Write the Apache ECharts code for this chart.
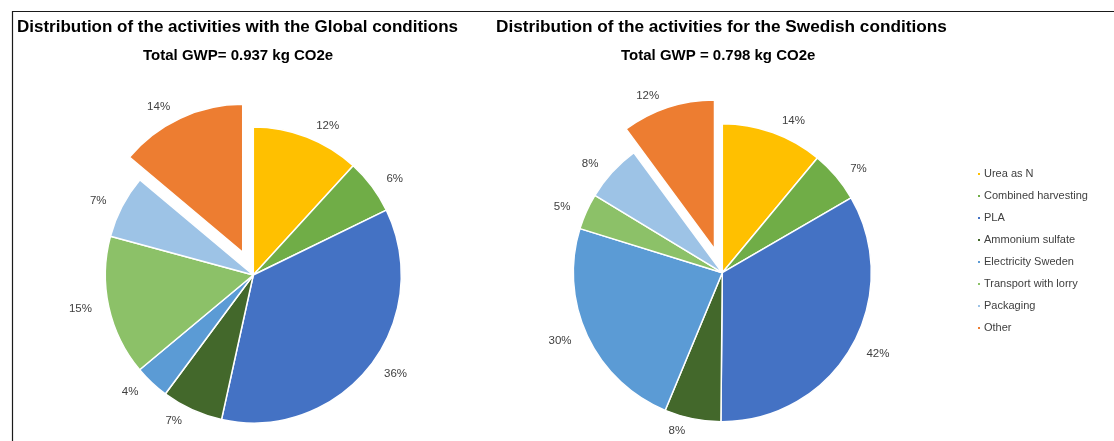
<!DOCTYPE html>
<html>
<head>
<meta charset="utf-8">
<script src="https://cdn.jsdelivr.net/npm/echarts@6/dist/echarts.min.js"></script>
<style>
  html, body { margin: 0; padding: 0; background: #fff; }
  #chart { width: 1114px; height: 441px; }
</style>
</head>
<body>
<div id="chart"></div>
<script>
// ---- data ----
const categories = ['Urea as N', 'Combined harvesting', 'PLA', 'Ammonium sulfate',
  'Electricity Sweden', 'Transport with lorry', 'Packaging', 'Other'];
// slice sizes (share of the pie, %)
const globalValues = [11.8, 6.0, 35.7, 6.7, 3.8, 15.3, 6.9, 13.9];
const swedishValues = [11.0, 5.6, 33.5, 6.1, 23.5, 3.9, 6.2, 10.1];
// labels as printed in the picture
const globalLabels = ['12%', '6%', '36%', '7%', '4%', '15%', '7%', '14%'];
const swedishLabels = ['14%', '7%', '42%', '8%', '30%', '5%', '8%', '12%'];
const explodedCategory = 'Other';
const titleGlobal = 'Distribution of the activities with the Global conditions';
const titleSwedish = 'Distribution of the activities for the Swedish conditions';
const subGlobal = 'Total GWP= 0.937 kg CO2e';
const subSwedish = 'Total GWP = 0.798 kg CO2e';

const colors = ['#FFC000', '#70AD47', '#4472C4', '#43682B', '#5B9BD5', '#8CC168', '#9DC3E6', '#ED7D31'];
const FONT = "'Liberation Sans', Arial, sans-serif";

function buildData(values) {
  return categories.map((name, i) => ({
    name: name,
    value: values[i],
    selected: name === explodedCategory
  }));
}

function pieSeries(name, center, radius, values, labels) {
  return {
    name: name,
    type: 'pie',
    center: center,
    radius: radius,
    startAngle: 90,
    clockwise: true,
    selectedMode: 'multiple',
    selectedOffset: 25,
    animation: false,
    avoidLabelOverlap: true,
    emphasis: { disabled: true },
    itemStyle: { borderColor: '#ffffff', borderWidth: 1.5 },
    label: {
      show: true,
      position: 'outside',
      formatter: p => labels[p.dataIndex],
      color: '#404040',
      fontSize: 11.5,
      fontFamily: FONT
    },
    labelLine: { show: false, length: 12, length2: 0 },
    data: buildData(values)
  };
}

const chart = echarts.init(document.getElementById('chart'), null, { renderer: 'canvas' });
chart.setOption({
  color: colors,
  backgroundColor: '#ffffff',
  title: [
    { text: titleGlobal, left: 17, top: 19, padding: 0,
      textStyle: { fontSize: 17, fontWeight: 'bold', color: '#000', fontFamily: FONT } },
    { text: subGlobal, left: 143, top: 48, padding: 0,
      textStyle: { fontSize: 15, fontWeight: 'bold', color: '#000', fontFamily: FONT } },
    { text: titleSwedish, left: 496, top: 19, padding: 0,
      textStyle: { fontSize: 17.2, fontWeight: 'bold', color: '#000', fontFamily: FONT } },
    { text: subSwedish, left: 621, top: 48, padding: 0,
      textStyle: { fontSize: 15, fontWeight: 'bold', color: '#000', fontFamily: FONT } }
  ],
  legend: {
    orient: 'vertical',
    left: 976,
    top: 167,
    padding: 0,
    itemWidth: 4,
    itemHeight: 4,
    itemGap: 8,
    icon: 'rect',
    selectedMode: false,
    data: categories,
    textStyle: { fontSize: 11, color: '#404040', fontFamily: FONT, lineHeight: 14, padding: [0, 0, 0, -2] }
  },
  graphic: [
    { type: 'polyline', silent: true,
      shape: { points: [[12.5, 441], [12.5, 11.5], [1114, 11.5]] },
      style: { stroke: '#1a1a1a', lineWidth: 1.2, fill: null } }
  ],
  series: [
    pieSeries('Global', [253.3, 275], 148, globalValues, globalLabels),
    pieSeries('Swedish', [722.3, 272.7], 149, swedishValues, swedishLabels)
  ]
});
</script>
</body>
</html>
